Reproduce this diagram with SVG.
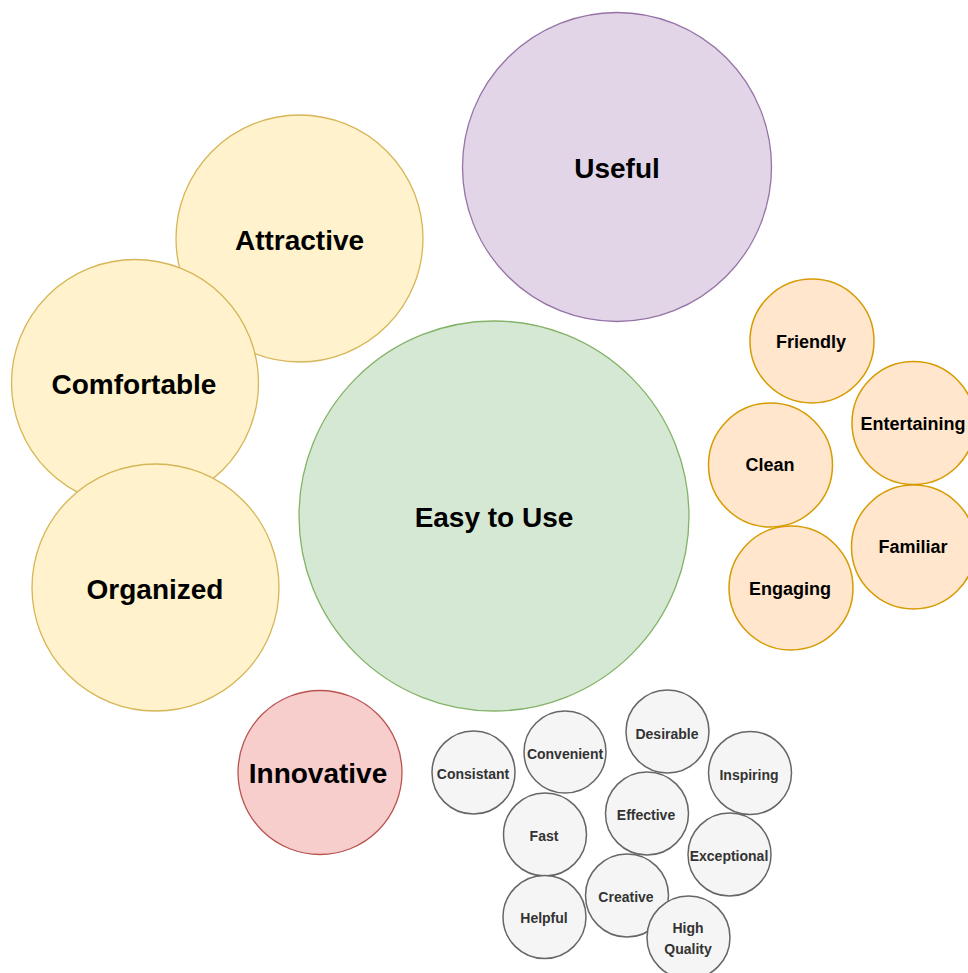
<svg xmlns="http://www.w3.org/2000/svg" width="968" height="973" viewBox="0 0 968 973">
<style>
text{font-family:"Liberation Sans",Arial,Helvetica,sans-serif;font-weight:bold;text-anchor:middle;dominant-baseline:central;fill:#000}
.xl{font-size:28px}
.md{font-size:18px}
.sm{font-size:14px}
.yellow{fill:#fff2cc;stroke:#d6b656;stroke-width:1.3}
.green{fill:#d5e8d4;stroke:#82b366;stroke-width:1.3}
.purple{fill:#e1d5e7;stroke:#9673a6;stroke-width:1.3}
.red{fill:#f8cecc;stroke:#b85450;stroke-width:1.3}
.orange{fill:#ffe6cc;stroke:#d79b00;stroke-width:1.5}
.gray{fill:#f5f5f5;stroke:#666666;stroke-width:1.5}
.gray-t{fill:#333333}
</style>
<rect width="968" height="973" fill="#ffffff"/>
<g id="connectors"></g>
<g id="attractive"><circle class="yellow" cx="299.5" cy="238.5" r="123.5"/><text class="xl" x="299.5" y="240">Attractive</text></g>
<g id="comfortable"><circle class="yellow" cx="135" cy="383" r="123.5"/><text class="xl" x="134" y="384">Comfortable</text></g>
<g id="organized"><circle class="yellow" cx="155.5" cy="587.5" r="123.5"/><text class="xl" x="155" y="589">Organized</text></g>
<g id="useful"><circle class="purple" cx="617" cy="167" r="154.5"/><text class="xl" x="617" y="168">Useful</text></g>
<g id="easy-to-use"><circle class="green" cx="494" cy="516" r="195"/><text class="xl" x="494" y="517">Easy to Use</text></g>
<g id="innovative"><circle class="red" cx="320" cy="772.5" r="82"/><text class="xl" x="318" y="773">Innovative</text></g>
<g id="friendly"><circle class="orange" cx="812" cy="341" r="62"/><text class="md" x="811" y="342">Friendly</text></g>
<g id="entertaining"><circle class="orange" cx="913.5" cy="423" r="61.5"/><text class="md" x="913" y="424">Entertaining</text></g>
<g id="clean"><circle class="orange" cx="770.5" cy="465" r="62"/><text class="md" x="770" y="465">Clean</text></g>
<g id="familiar"><circle class="orange" cx="913.5" cy="547" r="62"/><text class="md" x="913" y="547">Familiar</text></g>
<g id="engaging"><circle class="orange" cx="791" cy="588" r="62"/><text class="md" x="790" y="589">Engaging</text></g>
<g id="consistant"><circle class="gray" cx="473.5" cy="772.5" r="41.5"/><text class="sm gray-t" x="473" y="774">Consistant</text></g>
<g id="convenient"><circle class="gray" cx="565" cy="752" r="41"/><text class="sm gray-t" x="565" y="754">Convenient</text></g>
<g id="desirable"><circle class="gray" cx="667.5" cy="731.5" r="41.5"/><text class="sm gray-t" x="667" y="734">Desirable</text></g>
<g id="inspiring"><circle class="gray" cx="750" cy="773" r="41.5"/><text class="sm gray-t" x="749" y="775">Inspiring</text></g>
<g id="fast"><circle class="gray" cx="545" cy="834.5" r="41.5"/><text class="sm gray-t" x="544" y="836">Fast</text></g>
<g id="effective"><circle class="gray" cx="647" cy="813.5" r="41.5"/><text class="sm gray-t" x="646" y="815">Effective</text></g>
<g id="exceptional"><circle class="gray" cx="729.5" cy="854.5" r="41.5"/><text class="sm gray-t" x="729" y="856">Exceptional</text></g>
<g id="helpful"><circle class="gray" cx="544.5" cy="917" r="41.5"/><text class="sm gray-t" x="544" y="918">Helpful</text></g>
<g id="creative"><circle class="gray" cx="627" cy="895.5" r="41.5"/><text class="sm gray-t" x="626" y="897">Creative</text></g>
<g id="high-quality"><circle class="gray" cx="688.5" cy="937.5" r="41.5"/><text class="sm gray-t" x="688" y="928">High</text><text class="sm gray-t" x="688" y="949">Quality</text></g>
</svg>
